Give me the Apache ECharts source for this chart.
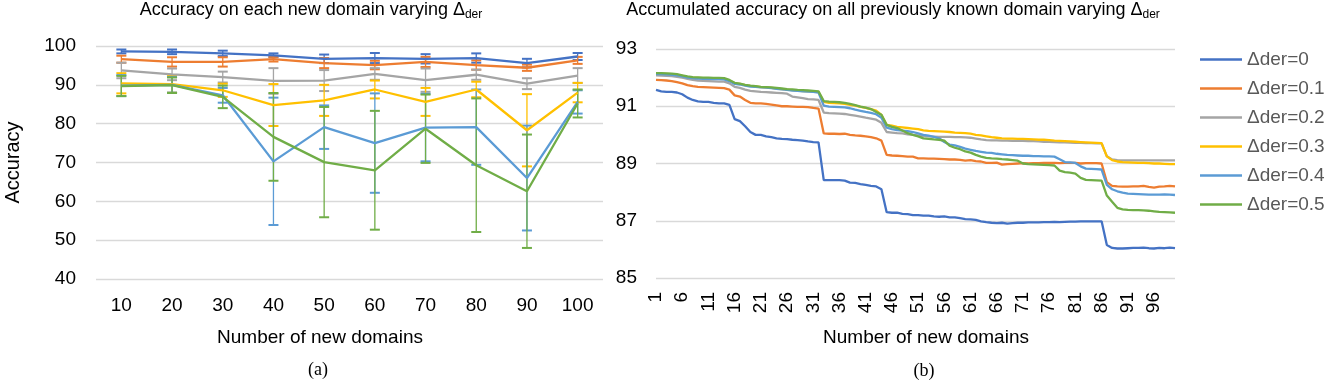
<!DOCTYPE html>
<html>
<head>
<meta charset="utf-8">
<script src="https://cdn.jsdelivr.net/npm/echarts@6/dist/echarts.min.js"></script>
<style>
html, body { margin: 0; padding: 0; background: #fff; }
#main { width: 1325px; height: 384px; }
</style>
</head>
<body>
<div id="main"></div>
<script>
// (a) accuracy on each new domain, mean and error
var domainsA = ['10', '20', '30', '40', '50', '60', '70', '80', '90', '100'];
var acc0 = [98.6, 98.5, 98.1, 97.6, 96.7, 96.9, 96.7, 96.9, 95.6, 97.3];
var err0 = [0.5, 0.6, 0.7, 0.5, 1.1, 1.3, 1.2, 1.2, 1.1, 0.9];
var acc1 = [96.6, 95.9, 95.9, 96.6, 95.6, 95.1, 95.9, 95.1, 94.4, 96.3];
var err1 = [0.9, 1.2, 1.2, 0.6, 1.3, 1.1, 1.3, 1.2, 0.8, 0.9];
var acc2 = [93.7, 92.7, 92.0, 91.0, 91.1, 92.8, 91.2, 92.6, 90.3, 92.4];
var err2 = [2.0, 1.5, 1.4, 3.3, 2.7, 1.5, 3.0, 1.3, 1.4, 1.9];
var acc3 = [90.4, 90.2, 88.6, 84.8, 86.0, 88.8, 85.6, 88.8, 78.3, 88.0];
var err3 = [2.6, 2.2, 1.7, 5.4, 4.0, 2.3, 3.6, 2.0, 9.3, 2.5];
var acc4 = [89.8, 90.0, 87.3, 70.3, 79.1, 75.0, 79.0, 79.1, 66.0, 85.6];
var err4 = [2.7, 2.0, 1.9, 16.4, 5.6, 12.8, 8.7, 9.7, 13.5, 3.0];
var acc5 = [89.7, 89.9, 86.9, 76.6, 70.1, 68.0, 78.7, 69.3, 62.6, 85.2];
var err5 = [2.6, 2.0, 2.9, 11.3, 14.2, 15.3, 8.8, 17.2, 14.6, 3.6];

// (b) accumulated accuracy, domains 1..100
var domainsB = [];
for (var k = 1; k <= 100; k++) domainsB.push(String(k));
var cum0 = [91.57, 91.52, 91.50, 91.50, 91.48, 91.42, 91.30, 91.22, 91.17, 91.15,
            91.15, 91.12, 91.10, 91.10, 91.05, 90.55, 90.48, 90.30, 90.10, 90.00,
            90.00, 89.95, 89.92, 89.88, 89.86, 89.85, 89.83, 89.82, 89.80, 89.77,
            89.75, 89.74, 88.42, 88.42, 88.42, 88.42, 88.40, 88.33, 88.32, 88.28,
            88.25, 88.22, 88.20, 88.10, 87.30, 87.28, 87.28, 87.24, 87.23, 87.20,
            87.20, 87.18, 87.18, 87.15, 87.14, 87.15, 87.12, 87.12, 87.09, 87.06,
            87.05, 87.03, 86.98, 86.95, 86.93, 86.92, 86.93, 86.90, 86.92, 86.93,
            86.93, 86.94, 86.94, 86.94, 86.95, 86.95, 86.96, 86.95, 86.96, 86.97,
            86.97, 86.98, 86.98, 86.98, 86.98, 86.98, 86.15, 86.05, 86.03, 86.03,
            86.04, 86.05, 86.05, 86.06, 86.04, 86.03, 86.05, 86.04, 86.06, 86.04];
var cum1 = [91.92, 91.91, 91.90, 91.88, 91.84, 91.80, 91.74, 91.70, 91.68, 91.67,
            91.66, 91.65, 91.64, 91.63, 91.58, 91.38, 91.34, 91.22, 91.12, 91.10,
            91.10, 91.08, 91.06, 91.03, 91.00, 91.00, 90.99, 90.98, 90.98, 90.97,
            90.94, 90.92, 90.05, 90.04, 90.04, 90.03, 90.04, 90.00, 89.98, 89.97,
            89.95, 89.92, 89.88, 89.80, 89.30, 89.28, 89.27, 89.26, 89.24, 89.24,
            89.18, 89.18, 89.17, 89.17, 89.16, 89.15, 89.14, 89.14, 89.13, 89.10,
            89.12, 89.08, 89.07, 89.02, 89.02, 89.03, 88.96, 88.98, 88.99, 89.00,
            89.01, 89.00, 89.01, 89.01, 89.02, 89.02, 89.02, 89.01, 89.02, 89.02,
            89.02, 89.00, 89.01, 89.01, 89.01, 89.00, 88.35, 88.22, 88.20, 88.19,
            88.19, 88.20, 88.20, 88.22, 88.18, 88.16, 88.19, 88.20, 88.22, 88.20];
var cum2 = [92.08, 92.07, 92.06, 92.05, 92.03, 92.00, 91.96, 91.92, 91.90, 91.89,
            91.88, 91.87, 91.86, 91.86, 91.80, 91.68, 91.64, 91.58, 91.54, 91.52,
            91.50, 91.49, 91.48, 91.47, 91.46, 91.44, 91.34, 91.31, 91.28, 91.25,
            91.24, 91.22, 90.78, 90.76, 90.75, 90.74, 90.73, 90.70, 90.67, 90.64,
            90.60, 90.57, 90.53, 90.42, 90.10, 90.08, 90.06, 90.05, 90.02, 90.00,
            89.98, 89.96, 89.95, 89.94, 89.93, 89.93, 89.93, 89.92, 89.92, 89.91,
            89.90, 89.87, 89.84, 89.82, 89.81, 89.81, 89.80, 89.80, 89.79, 89.79,
            89.79, 89.78, 89.78, 89.77, 89.76, 89.76, 89.75, 89.74, 89.74, 89.73,
            89.72, 89.72, 89.71, 89.71, 89.70, 89.70, 89.25, 89.14, 89.12, 89.11,
            89.11, 89.11, 89.11, 89.11, 89.11, 89.11, 89.11, 89.11, 89.11, 89.11];
var cum3 = [92.14, 92.14, 92.13, 92.12, 92.10, 92.06, 92.02, 92.00, 91.99, 91.98,
            91.98, 91.97, 91.97, 91.96, 91.90, 91.80, 91.78, 91.74, 91.71, 91.69,
            91.67, 91.66, 91.64, 91.62, 91.60, 91.58, 91.56, 91.55, 91.53, 91.52,
            91.51, 91.50, 91.15, 91.12, 91.11, 91.10, 91.08, 91.05, 91.02, 90.98,
            90.94, 90.90, 90.85, 90.70, 90.35, 90.32, 90.28, 90.26, 90.24, 90.22,
            90.20, 90.16, 90.14, 90.13, 90.12, 90.11, 90.10, 90.08, 90.07, 90.06,
            90.04, 90.00, 89.98, 89.95, 89.92, 89.90, 89.88, 89.87, 89.87, 89.86,
            89.86, 89.85, 89.84, 89.83, 89.83, 89.82, 89.80, 89.79, 89.78, 89.77,
            89.76, 89.75, 89.74, 89.73, 89.72, 89.71, 89.25, 89.12, 89.07, 89.05,
            89.04, 89.03, 89.02, 89.02, 89.01, 89.00, 89.00, 88.99, 88.98, 88.98];
var cum4 = [92.12, 92.12, 92.11, 92.10, 92.08, 92.04, 92.00, 91.98, 91.97, 91.96,
            91.96, 91.95, 91.95, 91.94, 91.88, 91.78, 91.76, 91.72, 91.69, 91.68,
            91.66, 91.65, 91.63, 91.61, 91.59, 91.57, 91.55, 91.54, 91.52, 91.51,
            91.50, 91.48, 91.02, 90.99, 90.98, 90.97, 90.96, 90.93, 90.88, 90.84,
            90.80, 90.77, 90.72, 90.60, 90.25, 90.20, 90.17, 90.15, 90.13, 90.10,
            90.05, 90.00, 89.97, 89.93, 89.88, 89.75, 89.66, 89.63, 89.58, 89.52,
            89.48, 89.44, 89.41, 89.38, 89.37, 89.34, 89.32, 89.30, 89.29, 89.28,
            89.27, 89.27, 89.26, 89.26, 89.25, 89.25, 89.24, 89.15, 89.05, 89.04,
            89.02, 88.90, 88.82, 88.81, 88.80, 88.79, 88.25, 88.10, 88.03, 87.98,
            87.95, 87.94, 87.93, 87.92, 87.91, 87.91, 87.91, 87.92, 87.91, 87.90];
var cum5 = [92.16, 92.16, 92.15, 92.14, 92.12, 92.08, 92.04, 92.02, 92.01, 92.00,
            92.00, 91.99, 91.99, 91.98, 91.92, 91.82, 91.79, 91.75, 91.72, 91.70,
            91.68, 91.67, 91.66, 91.64, 91.62, 91.60, 91.59, 91.57, 91.56, 91.55,
            91.54, 91.52, 91.18, 91.16, 91.15, 91.14, 91.12, 91.08, 91.04, 90.99,
            90.95, 90.90, 90.80, 90.70, 90.35, 90.28, 90.24, 90.15, 90.06, 90.00,
            89.95, 89.88, 89.86, 89.84, 89.83, 89.80, 89.62, 89.55, 89.50, 89.42,
            89.38, 89.30, 89.24, 89.20, 89.18, 89.17, 89.15, 89.14, 89.12, 89.10,
            89.00, 88.98, 88.97, 88.96, 88.95, 88.94, 88.93, 88.75, 88.70, 88.68,
            88.65, 88.50, 88.43, 88.42, 88.41, 88.40, 87.88, 87.66, 87.45, 87.40,
            87.38, 87.37, 87.37, 87.36, 87.35, 87.33, 87.31, 87.30, 87.29, 87.28];

var names = ['Δder=0', 'Δder=0.1', 'Δder=0.2', 'Δder=0.3', 'Δder=0.4', 'Δder=0.5'];
var colors = ['#4472C4', '#ED7D31', '#A5A5A5', '#FFC000', '#5B9BD5', '#70AD47'];

var accA = [acc0, acc1, acc2, acc3, acc4, acc5];
var errA = [err0, err1, err2, err3, err4, err5];
var cumB = [cum0, cum1, cum2, cum3, cum4, cum5];

var font = 'Liberation Sans, Arial, sans-serif';

// vertical error bar with caps, drawn through the axis scales
function errBar(params, api) {
    var i = api.value(0);
    var hi = api.coord([i, api.value(2)]);
    var lo = api.coord([i, api.value(1)]);
    var c = api.visual('color');
    var line = {stroke: c, lineWidth: 1.3};
    var cap = {stroke: c, lineWidth: 2};
    return {
        type: 'group',
        children: [
            {type: 'line', shape: {x1: hi[0], y1: hi[1], x2: lo[0], y2: lo[1]}, style: line},
            {type: 'line', shape: {x1: hi[0] - 5, y1: hi[1], x2: hi[0] + 5, y2: hi[1]}, style: cap},
            {type: 'line', shape: {x1: lo[0] - 5, y1: lo[1], x2: lo[0] + 5, y2: lo[1]}, style: cap}
        ]
    };
}

var series = [];
accA.forEach(function (acc, s) {
    series.push({
        type: 'custom',
        name: 'err' + s,
        xAxisIndex: 0,
        yAxisIndex: 0,
        renderItem: errBar,
        itemStyle: {color: colors[s]},
        encode: {x: 0, y: [1, 2]},
        silent: true,
        z: 2,
        data: acc.map(function (v, i) {
            return [i, v - errA[s][i], v + errA[s][i]];
        })
    });
});
accA.forEach(function (acc, s) {
    series.push({
        type: 'line',
        name: names[s],
        xAxisIndex: 0,
        yAxisIndex: 0,
        symbol: 'none',
        color: colors[s],
        lineStyle: {width: 2.3},
        z: 3,
        data: acc
    });
});
cumB.forEach(function (cum, s) {
    series.push({
        type: 'line',
        name: names[s],
        xAxisIndex: 1,
        yAxisIndex: 1,
        symbol: 'none',
        color: colors[s],
        lineStyle: {width: 2.3},
        data: cum
    });
});

var titleStyle = {
    fontFamily: font, fontSize: 18, fontWeight: 'normal', color: '#000',
    rich: {sub: {fontFamily: font, fontSize: 12, color: '#000', padding: [9, 0, 0, 0]}}
};
var axisNameStyle = {fontFamily: font, fontSize: 19, fontWeight: 'normal', color: '#000'};
var capStyle = {fontFamily: 'Liberation Serif, Times New Roman, serif', fontSize: 18, fontWeight: 'normal', color: '#000'};

var option = {
    backgroundColor: '#fff',
    animation: false,
    title: [
        {text: 'Accuracy on each new domain varying Δ{sub|der}', left: 311, top: 0, textAlign: 'center', padding: 0, textStyle: titleStyle},
        {text: 'Accumulated accuracy on all previously known domain varying Δ{sub|der}', left: 893, top: 0, textAlign: 'center', padding: 0, textStyle: titleStyle},
        {text: 'Number of new domains', left: 320, top: 328, textAlign: 'center', padding: 0, textStyle: axisNameStyle},
        {text: 'Number of new domains', left: 926, top: 328, textAlign: 'center', padding: 0, textStyle: axisNameStyle},
        {text: '(a)', left: 318, top: 361, textAlign: 'center', padding: 0, textStyle: capStyle},
        {text: '(b)', left: 924, top: 362, textAlign: 'center', padding: 0, textStyle: capStyle}
    ],
    legend: {
        data: names,
        orient: 'vertical',
        left: 1195,
        top: 45,
        icon: 'rect',
        itemWidth: 42,
        itemHeight: 2.5,
        itemGap: 10,
        textStyle: {fontFamily: font, fontSize: 19, color: '#595959', lineHeight: 19}
    },
    grid: [
        {left: 96, right: 722, top: 46, bottom: 105},
        {left: 656, right: 150, top: 49, bottom: 106}
    ],
    xAxis: [{
        type: 'category',
        gridIndex: 0,
        data: domainsA,
        boundaryGap: true,
        axisLine: {show: false},
        axisTick: {show: false},
        axisLabel: {fontFamily: font, fontSize: 19, color: '#000', margin: 17}
    }, {
        type: 'category',
        gridIndex: 1,
        data: domainsB,
        boundaryGap: false,
        axisLine: {show: false},
        axisTick: {show: false},
        axisLabel: {fontFamily: font, fontSize: 19, color: '#000', rotate: 90, interval: 4, margin: 14}
    }],
    yAxis: [{
        type: 'value',
        gridIndex: 0,
        min: 40,
        max: 100,
        interval: 10,
        name: 'Accuracy',
        nameLocation: 'middle',
        nameGap: 73,
        nameTextStyle: {fontFamily: font, fontSize: 20, color: '#000'},
        axisLine: {show: false},
        axisTick: {show: false},
        axisLabel: {fontFamily: font, fontSize: 19, color: '#000', margin: 20},
        splitLine: {lineStyle: {color: '#D9D9D9', width: 1.3}}
    }, {
        type: 'value',
        gridIndex: 1,
        min: 85,
        max: 93,
        interval: 2,
        axisLine: {show: false},
        axisTick: {show: false},
        axisLabel: {fontFamily: font, fontSize: 19, color: '#000', margin: 19},
        splitLine: {lineStyle: {color: '#D9D9D9', width: 1.3}}
    }],
    series: series
};

var myChart = echarts.init(document.getElementById('main'));
myChart.setOption(option);
</script>
</body>
</html>
